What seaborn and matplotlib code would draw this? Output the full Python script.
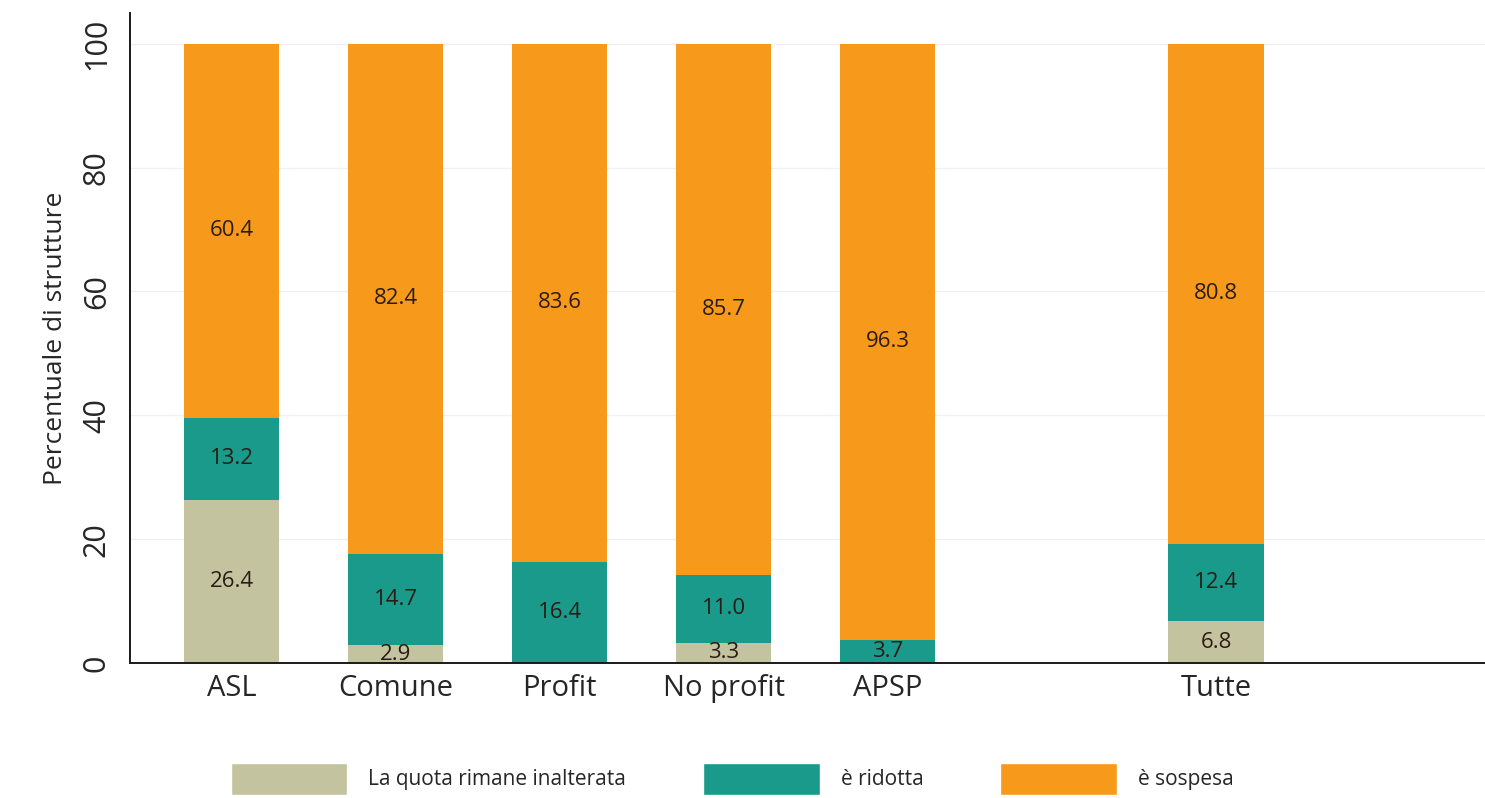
import seaborn as sns
import matplotlib.pyplot as plt
import pandas as pd
from matplotlib.patches import Patch

# Data (percent of structures)
categories = ["ASL", "Comune", "Profit", "No profit", "APSP", "Tutte"]
inalterata = [26.4, 2.9, 0.0, 3.3, 0.0, 6.8]
ridotta = [13.2, 14.7, 16.4, 11.0, 3.7, 12.4]
sospesa = [60.4, 82.4, 83.6, 85.7, 96.3, 80.8]
series_names = ["La quota rimane inalterata", "è ridotta", "è sospesa"]

beige = "#c4c39f"
teal = "#1a9a8b"
orange = "#f79a1c"

# empty slot before "Tutte"
order = categories[:5] + [" "] + categories[5:]

df = pd.DataFrame({"cat": categories, "inalterata": inalterata,
                   "ridotta": ridotta, "sospesa": sospesa})
df["low"] = df["inalterata"]
df["mid"] = df["low"] + df["ridotta"]
df["top"] = df["mid"] + df["sospesa"]

sns.set_style("white")
plt.rcParams["font.family"] = ["Open Sans", "DejaVu Sans"]

fig, ax = plt.subplots(figsize=(14.85, 7.98), dpi=100)
fig.subplots_adjust(left=0.0875, right=1.0, bottom=0.169, top=0.984)

# stacked bars: draw cumulative totals back to front
for col, color in [("top", orange), ("mid", teal), ("low", beige)]:
    sns.barplot(data=df, x="cat", y=col, order=order, color=color,
                width=0.58, saturation=1, ax=ax, errorbar=None, zorder=2,
                linewidth=0, edgecolor=color)

# value labels in the middle of each segment
for i, cat in enumerate(categories):
    pos = order.index(cat)
    base = 0
    for v in [inalterata[i], ridotta[i], sospesa[i]]:
        if v > 0:
            ax.text(pos, base + v / 2, f"{v:.1f}", ha="center", va="center",
                    fontsize=16, color="#2a1c14", zorder=3)
        base += v

ax.set_xlim(-0.62, 7.64)
ax.set_ylim(0, 105)
ax.set_yticks([0, 20, 40, 60, 80, 100])
ax.set_yticklabels(["0", "20", "40", "60", "80", "100"], rotation=90, va="center")
ax.tick_params(axis="y", length=7, width=1.2, labelsize=22, pad=6)
ax.tick_params(axis="x", length=0, labelsize=21, pad=8)
ax.set_xlabel("")
ax.set_ylabel("Percentuale di strutture", fontsize=19, labelpad=10)

ax.yaxis.grid(True, color="#f0f0f0", lw=1)
ax.set_axisbelow(True)
sns.despine(ax=ax)
for s in ["left", "bottom"]:
    ax.spines[s].set_color("#1a1a1a")
    ax.spines[s].set_linewidth(1.4)

handles = [Patch(facecolor=c) for c in [beige, teal, orange]]
fig.legend(handles, series_names, loc="center", bbox_to_anchor=(0.493, 0.024),
           ncol=3, frameon=False, handlelength=5.6, handleheight=2.0,
           columnspacing=3.7, handletextpad=1.0, fontsize=15)

fig.savefig("out.png", dpi=100)
